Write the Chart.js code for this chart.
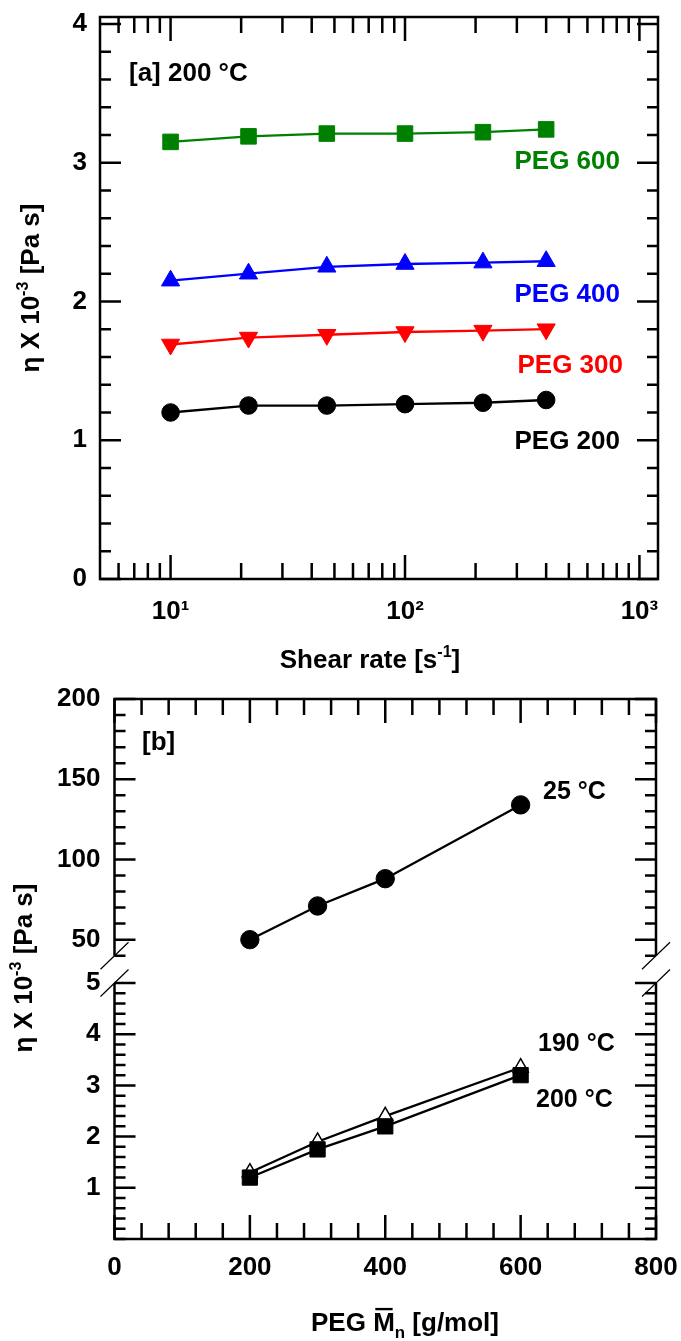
<!DOCTYPE html>
<html>
<head>
<meta charset="utf-8">
<script src="https://cdn.jsdelivr.net/npm/chart.js@4.4.1/dist/chart.umd.min.js"></script>
<style>
  html, body { margin: 0; padding: 0; background: #fff; }
  #page { position: relative; width: 681px; height: 1341px; overflow: hidden; }
  canvas { position: absolute; left: 0; top: 0; }
</style>
</head>
<body>
<div id="page">
  <canvas id="chart-a" width="681" height="1341"></canvas>
  <canvas id="chart-b-high" width="681" height="1341"></canvas>
  <canvas id="chart-b-low" width="681" height="1341"></canvas>
</div>
<script>
// [a] viscosity vs shear rate at 200 °C
const shearRates = [10, 21.5, 46.4, 100, 215, 400];
const peg600 = [3.15, 3.19, 3.21, 3.21, 3.22, 3.24];
const peg400 = [2.15, 2.20, 2.25, 2.27, 2.28, 2.29];
const peg300 = [1.69, 1.74, 1.76, 1.78, 1.79, 1.80];
const peg200 = [1.20, 1.25, 1.25, 1.26, 1.27, 1.29];

// [b] viscosity vs PEG molecular weight
const pegMn = [200, 300, 400, 600];
const eta25 = [50, 71, 88, 134];
const eta190 = [1.30, 1.90, 2.40, 3.35];
const eta200 = [1.20, 1.75, 2.20, 3.20];

// tick values and labels
const shearTicks = [10, 100, 1000];
const shearTickLabels = ['10¹', '10²', '10³'];
const shearMinor = [6, 7, 8, 9, 20, 30, 40, 50, 60, 70, 80, 90, 200, 300, 400, 500, 600, 700, 800, 900];
const etaTicksA = [0, 1, 2, 3, 4];
const etaTicksHigh = [50, 100, 150, 200];
const etaTicksLow = [1, 2, 3, 4, 5];
const mnTicks = [0, 200, 400, 600, 800];

const FONT = '"Liberation Sans", Arial, Helvetica, sans-serif';
const GREEN = '#008000', BLUE = '#0000ff', RED = '#ff0000', BLACK = '#000000';
const H = 1341;

function series(xs, ys) {
  return xs.map((x, i) => ({ x: x, y: ys[i] }));
}

// evenly spaced minor tick values, leaving out the major ones
function steps(from, to, step, skip) {
  const out = [];
  for (let v = from; v <= to + 1e-9; v += step) {
    const r = Math.round(v * 1000) / 1000;
    if (!skip.some(s => Math.abs(s - r) < 1e-6)) out.push(r);
  }
  return out;
}

function fixTicks(values) {
  return s => { s.ticks = values.map(v => ({ value: v })); };
}

function fixSize(w, h) {
  return s => {
    if (w != null) s.width = w;
    if (h != null) s.height = h;
    s.paddingLeft = s.paddingRight = s.paddingTop = s.paddingBottom = 0;
  };
}

const tickFont = { family: FONT, size: 26, weight: 'bold' };

// box, inward ticks and axis-break marks
function framePlugin(spec) {
  return {
    id: 'frame',
    afterDraw(chart) {
      const ctx = chart.ctx, a = chart.chartArea;
      const xs = chart.scales.x, ys = chart.scales.y;
      ctx.save();
      ctx.strokeStyle = '#000';
      ctx.lineWidth = 2.5;
      ctx.beginPath();
      if (spec.open === 'bottom') {
        ctx.moveTo(a.left, a.bottom); ctx.lineTo(a.left, a.top);
        ctx.lineTo(a.right, a.top); ctx.lineTo(a.right, a.bottom);
      } else if (spec.open === 'top') {
        ctx.moveTo(a.left, a.top); ctx.lineTo(a.left, a.bottom);
        ctx.lineTo(a.right, a.bottom); ctx.lineTo(a.right, a.top);
      } else {
        ctx.rect(a.left, a.top, a.right - a.left, a.bottom - a.top);
      }
      ctx.stroke();

      ctx.beginPath();
      const yTick = (v, len) => {
        const p = ys.getPixelForValue(v);
        ctx.moveTo(a.left, p); ctx.lineTo(a.left + len, p);
        ctx.moveTo(a.right, p); ctx.lineTo(a.right - len, p);
      };
      const xTick = (v, len) => {
        const p = xs.getPixelForValue(v);
        spec.xEdges.forEach(e => {
          const y0 = e === 'top' ? a.top : a.bottom;
          ctx.moveTo(p, y0); ctx.lineTo(p, e === 'top' ? y0 + len : y0 - len);
        });
      };
      spec.yMajor.forEach(v => yTick(v, 21));
      spec.yMinor.forEach(v => yTick(v, 11));
      spec.xMajor.forEach(v => xTick(v, 24));
      spec.xMinor.forEach(v => xTick(v, 16));
      ctx.stroke();

      if (spec.breakEdge) {
        const yb = spec.breakEdge === 'bottom' ? a.bottom : a.top;
        ctx.lineWidth = 1.2;
        ctx.beginPath();
        [a.left, a.right].forEach(xb => {
          ctx.moveTo(xb - 14, yb + 13.5);
          ctx.lineTo(xb + 14, yb - 13.5);
        });
        ctx.stroke();
      }
      ctx.restore();
    }
  };
}

// plain labels, vertically centred on cap height
function notesPlugin(items) {
  return {
    id: 'notes',
    afterDraw(chart) {
      const ctx = chart.ctx;
      items.forEach(it => {
        ctx.save();
        ctx.font = 'bold ' + it.size + 'px ' + FONT;
        ctx.fillStyle = it.color || '#000';
        ctx.textAlign = it.align || 'left';
        ctx.textBaseline = 'alphabetic';
        ctx.fillText(it.text, it.x, it.y + it.size * 0.358);
        ctx.restore();
      });
    }
  };
}

// axis titles with super/subscripts
function drawRich(ctx, parts, cx, cy, size, angle) {
  ctx.save();
  ctx.translate(cx, cy);
  ctx.rotate(angle || 0);
  ctx.fillStyle = '#000';
  ctx.textBaseline = 'alphabetic';
  ctx.textAlign = 'left';
  const runs = parts.map(p => {
    const fs = size * (p.scale || 1);
    ctx.font = 'bold ' + fs + 'px ' + FONT;
    return Object.assign({}, p, { fs: fs, w: ctx.measureText(p.text).width });
  });
  const total = runs.reduce((s, r) => s + r.w, 0);
  let x = -total / 2;
  const base = size * 0.358;
  runs.forEach(r => {
    ctx.font = 'bold ' + r.fs + 'px ' + FONT;
    ctx.fillText(r.text, x, base + (r.shift || 0) * size);
    if (r.overline) ctx.fillRect(x + r.w * 0.1, base - size * 0.9, r.w * 0.8, size * 0.09);
    x += r.w;
  });
  ctx.restore();
}

function titlesPlugin(titles) {
  return {
    id: 'titles',
    afterDraw(chart) {
      titles.forEach(t => drawRich(chart.ctx, t.parts, t.x, t.y, t.size, t.angle));
    }
  };
}

const etaTitle = [
  { text: 'η X 10' },
  { text: '-3', scale: 0.62, shift: -0.42 },
  { text: ' [Pa s]' }
];

function lineSet(xs, ys, color, style, radius, rotation) {
  return {
    data: series(xs, ys),
    borderColor: color,
    backgroundColor: color,
    borderWidth: 2.3,
    pointStyle: style,
    pointRadius: radius,
    pointRotation: rotation || 0,
    pointBackgroundColor: color,
    pointBorderColor: color,
    pointBorderWidth: 1,
    tension: 0
  };
}

const common = {
  responsive: false,
  animation: false,
  devicePixelRatio: 1,
  events: [],
  plugins: { legend: { display: false }, tooltip: { enabled: false } }
};

// ---- panel [a]
new Chart(document.getElementById('chart-a'), {
  type: 'line',
  data: {
    datasets: [
      lineSet(shearRates, peg600, GREEN, 'rect', 11),
      lineSet(shearRates, peg400, BLUE, 'triangle', 10.5),
      lineSet(shearRates, peg300, RED, 'triangle', 10.5, 180),
      lineSet(shearRates, peg200, BLACK, 'circle', 8.8)
    ]
  },
  options: Object.assign({}, common, {
    layout: { padding: { left: 0, right: 681 - 658, top: 17, bottom: H - 579 - 60 } },
    scales: {
      x: {
        type: 'logarithmic', min: 5, max: 1200,
        grid: { display: false, drawTicks: false }, border: { display: false },
        ticks: { font: tickFont, color: '#000', padding: 17, autoSkip: false, maxRotation: 0,
                 callback: v => shearTickLabels[shearTicks.indexOf(v)] },
        afterBuildTicks: fixTicks(shearTicks),
        afterFit: fixSize(null, 60)
      },
      y: {
        type: 'linear', min: 0, max: 4.05, bounds: 'data',
        grid: { display: false, drawTicks: false }, border: { display: false },
        ticks: { font: tickFont, color: '#000', padding: 13, autoSkip: false, callback: v => String(v) },
        afterBuildTicks: fixTicks(etaTicksA),
        afterFit: fixSize(100, null)
      }
    }
  }),
  plugins: [
    framePlugin({
      xMajor: shearTicks, xMinor: shearMinor, xEdges: ['top', 'bottom'],
      yMajor: etaTicksA, yMinor: steps(0, 4, 0.2, etaTicksA)
    }),
    notesPlugin([
      { text: '[a] 200 °C', x: 129, y: 72, size: 26 },
      { text: 'PEG 600', x: 620, y: 160, size: 26, align: 'right', color: GREEN },
      { text: 'PEG 400', x: 620, y: 293, size: 26, align: 'right', color: BLUE },
      { text: 'PEG 300', x: 623, y: 364, size: 26, align: 'right', color: RED },
      { text: 'PEG 200', x: 620, y: 440, size: 26, align: 'right', color: BLACK }
    ]),
    titlesPlugin([
      { parts: etaTitle, x: 30, y: 288, size: 26, angle: -Math.PI / 2 },
      { parts: [{ text: 'Shear rate [s' }, { text: '-1', scale: 0.62, shift: -0.42 }, { text: ']' }],
        x: 370, y: 659, size: 26 }
    ])
  ]
});

// ---- panel [b], upper part of the broken axis
new Chart(document.getElementById('chart-b-high'), {
  type: 'line',
  data: {
    datasets: [
      lineSet(pegMn, eta25, BLACK, 'circle', 9.2)
    ]
  },
  options: Object.assign({}, common, {
    layout: { padding: { left: 0, right: 681 - 656, top: 699, bottom: H - 955.7 } },
    scales: {
      x: { type: 'linear', min: 0, max: 800, bounds: 'data', display: false },
      y: {
        type: 'linear', min: 40, max: 200, bounds: 'data',
        grid: { display: false, drawTicks: false }, border: { display: false },
        ticks: { font: tickFont, color: '#000', padding: 14, autoSkip: false, callback: v => String(v) },
        afterBuildTicks: fixTicks(etaTicksHigh),
        afterFit: fixSize(114.5, null)
      }
    }
  }),
  plugins: [
    framePlugin({
      xMajor: mnTicks, xMinor: steps(0, 800, 40, mnTicks), xEdges: ['top'],
      yMajor: etaTicksHigh, yMinor: steps(40, 200, 10, etaTicksHigh),
      open: 'bottom', breakEdge: 'bottom'
    }),
    notesPlugin([
      { text: '[b]', x: 142, y: 741, size: 26 },
      { text: '25 °C', x: 543, y: 790, size: 25 }
    ])
  ]
});

// ---- panel [b], lower part of the broken axis
new Chart(document.getElementById('chart-b-low'), {
  type: 'line',
  data: {
    datasets: [
      lineSet(pegMn, eta200, BLACK, 'rect', 10.8),
      Object.assign(lineSet(pegMn, eta190, BLACK, 'triangle', 8.8), {
        pointBackgroundColor: '#fff', pointBorderWidth: 1.5
      })
    ]
  },
  options: Object.assign({}, common, {
    layout: { padding: { left: 0, right: 681 - 656, top: 983, bottom: H - 1239 - 60 } },
    scales: {
      x: {
        type: 'linear', min: 0, max: 800, bounds: 'data',
        grid: { display: false, drawTicks: false }, border: { display: false },
        ticks: { font: tickFont, color: '#000', padding: 13, autoSkip: false, maxRotation: 0,
                 callback: v => String(v) },
        afterBuildTicks: fixTicks(mnTicks),
        afterFit: fixSize(null, 60)
      },
      y: {
        type: 'linear', min: 0, max: 5, bounds: 'data',
        grid: { display: false, drawTicks: false }, border: { display: false },
        ticks: { font: tickFont, color: '#000', padding: 14, autoSkip: false, callback: v => String(v) },
        afterBuildTicks: fixTicks(etaTicksLow),
        afterFit: fixSize(114.5, null)
      }
    }
  }),
  plugins: [
    framePlugin({
      xMajor: mnTicks, xMinor: steps(0, 800, 40, mnTicks), xEdges: ['bottom'],
      yMajor: etaTicksLow, yMinor: steps(0, 5, 0.2, etaTicksLow),
      open: 'top', breakEdge: 'top'
    }),
    notesPlugin([
      { text: '190 °C', x: 538, y: 1042, size: 25 },
      { text: '200 °C', x: 536, y: 1098, size: 25 }
    ]),
    titlesPlugin([
      { parts: etaTitle, x: 23, y: 968, size: 26, angle: -Math.PI / 2 },
      { parts: [{ text: 'PEG ' }, { text: 'M', overline: true }, { text: 'n', scale: 0.65, shift: 0.25 },
                { text: ' [g/mol]' }],
        x: 405, y: 1322, size: 26 }
    ])
  ]
});
</script>
</body>
</html>
